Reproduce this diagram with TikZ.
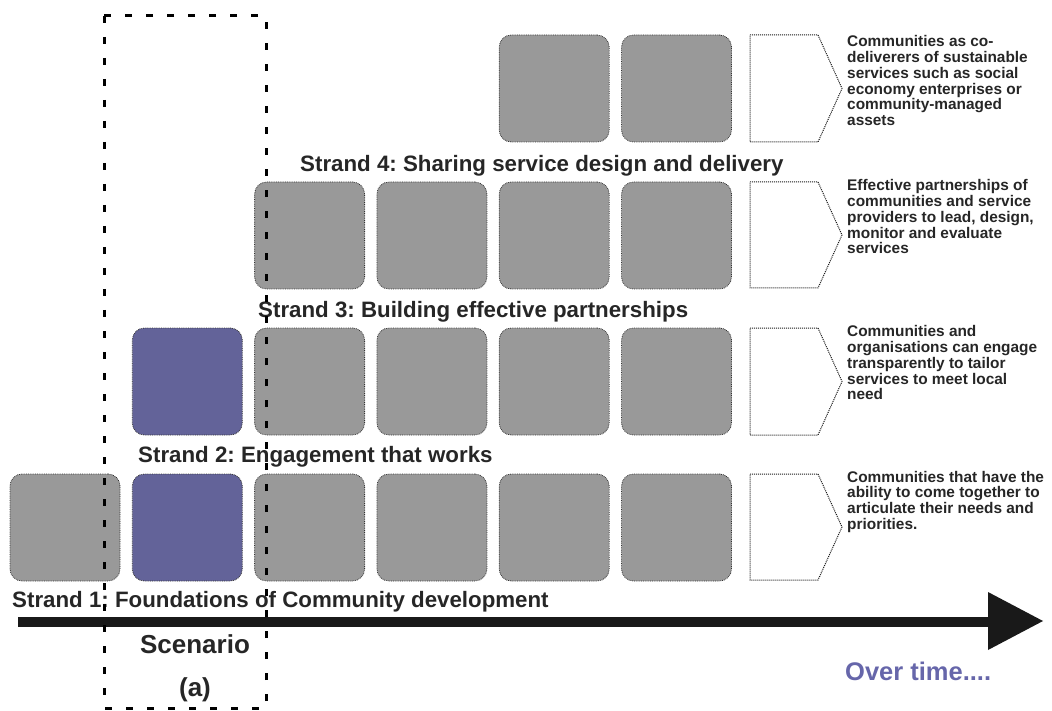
\documentclass[tikz,border=0pt]{standalone}
\usepackage{fontspec}
\setmainfont{Liberation Sans}
\frenchspacing
\definecolor{boxgray}{RGB}{153,153,153}
\definecolor{boxblue}{RGB}{99,99,153}
\definecolor{timeblue}{RGB}{102,102,170}
\tikzset{
  tile/.style={rectangle, rounded corners=12pt, minimum width=110pt, minimum height=107pt,
    inner sep=0pt, fill=boxgray, draw=black!80, densely dotted, line width=0.8pt},
  bluetile/.style={tile, fill=boxblue},
  chevron/.style={draw=black!90, densely dotted, line width=1pt, fill=white},
  strandlabel/.style={anchor=base west, inner sep=0pt, font=\fontsize{22.3}{24}\selectfont\bfseries, text=black!85},
  outcome/.style={anchor=base west, inner sep=0pt, text=black!85},
  scenariobox/.style={line width=3pt, dash pattern=on 7pt off 14pt},
  biglabel/.style={anchor=base, inner sep=0pt, font=\fontsize{26}{28}\selectfont\bfseries, text=black!85}
}
\newcommand{\outtext}[1]{\parbox[t]{210pt}{\fontsize{15.4}{15.7}\selectfont\bfseries\raggedright #1}}
\begin{document}
\begin{tikzpicture}[x=1pt,y=-1pt]
\useasboundingbox (0,0) rectangle (1052,711);
% row 4 (top)
\node[tile] (r4c4) at (554.2,88.5) {};
\node[tile] (r4c5) at (676.5,88.5) {};
% row 3
\node[tile] (r3c2) at (309.6,235.5) {};
\node[tile] (r3c3) at (431.9,235.5) {};
\node[tile] (r3c4) at (554.2,235.5) {};
\node[tile] (r3c5) at (676.5,235.5) {};
% row 2
\node[bluetile] (r2c1) at (187.3,381.5) {};
\node[tile] (r2c2) at (309.6,381.5) {};
\node[tile] (r2c3) at (431.9,381.5) {};
\node[tile] (r2c4) at (554.2,381.5) {};
\node[tile] (r2c5) at (676.5,381.5) {};
% row 1
\node[tile] (r1c0) at (65,527.5) {};
\node[bluetile] (r1c1) at (187.3,527.5) {};
\node[tile] (r1c2) at (309.6,527.5) {};
\node[tile] (r1c3) at (431.9,527.5) {};
\node[tile] (r1c4) at (554.2,527.5) {};
\node[tile] (r1c5) at (676.5,527.5) {};
% chevrons
\foreach \ya/\yb in {35/142, 182/288, 328/435, 474/580}{
  \draw[chevron] (750,\ya) -- (818,\ya) -- (842,{(\ya+\yb)/2}) -- (818,\yb) -- (750,\yb) -- cycle;
}
% outcome texts
\node[outcome] (o4) at (847,47) {\outtext{Communities as co-\\deliverers of sustainable\\services such as social\\economy enterprises or\\community-managed\\assets}};
\node[outcome] (o3) at (847,191) {\outtext{Effective partnerships of\\communities and service\\providers to lead, design,\\monitor and evaluate\\services}};
\node[outcome] (o2) at (847,337) {\outtext{Communities and\\organisations can engage\\transparently to tailor\\services to meet local\\need}};
\node[outcome] (o1) at (847,482) {\outtext{Communities that have the\\ability to come together to\\articulate their needs and\\priorities.}};
% strand labels
\node[strandlabel] (s4) at (300,172) {Strand 4: Sharing service design and delivery};
\node[strandlabel] (s3) at (258,317) {Strand 3: Building effective partnerships};
\node[strandlabel] (s2) at (138,462) {Strand 2: Engagement that works};
\node[strandlabel] (s1) at (12,607) {Strand 1: Foundations of Community development};
% time arrow
\coordinate (tstart) at (18,622);
\coordinate (tend) at (990,622);
\draw[line width=10pt, black!90] (tstart) -- (tend);
\fill[black!90] (988,592) -- (1043,621) -- (988,650) -- cycle;
\node[anchor=base west, inner sep=0pt, font=\fontsize{25.5}{27}\selectfont\bfseries, text=timeblue] (overtime) at (845,680) {Over time....};
% scenario
\node[biglabel] (scen) at (195,653) {Scenario};
\node[biglabel] (scena) at (195,696) {(a)};
\draw[scenariobox] (104,16) rectangle (266,708);
\end{tikzpicture}
\end{document}
